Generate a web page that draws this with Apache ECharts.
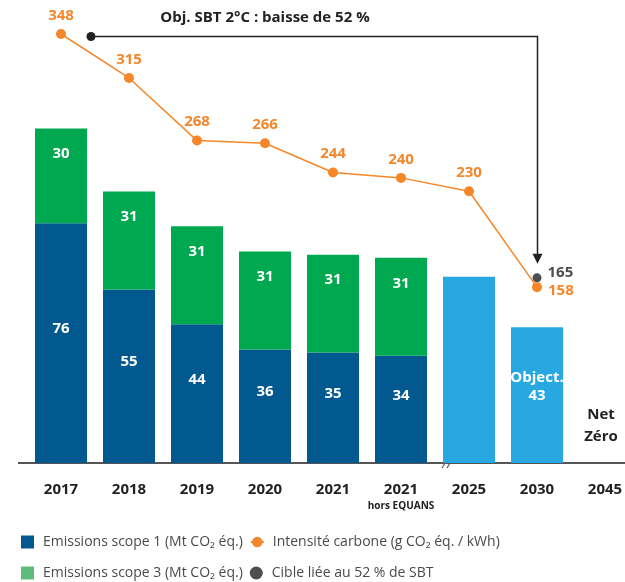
<!DOCTYPE html>
<html>
<head>
<meta charset="utf-8">
<script src="https://cdn.jsdelivr.net/npm/echarts@6/dist/echarts.min.js"></script>
<style>
  html, body { margin: 0; padding: 0; background: #fff; }
  #chart { width: 625px; height: 582px; }
</style>
</head>
<body>
<div id="chart"></div>
<script>
var categories = ['2017', '2018', '2019', '2020', '2021', '2021 hors EQUANS', '2025', '2030', '2045'];
var scope1 = [76, 55, 44, 36, 35, 34, '-', '-', '-'];
var scope3 = [30, 31, 31, 31, 31, 31, '-', '-', '-'];
var objectif = ['-', '-', '-', '-', '-', '-', 59, 43, '-'];
var intensite = [348, 315, 268, 266, 244, 240, 230, 158, '-'];
var cible = ['-', '-', '-', '-', '-', '-', '-', 165, '-'];

var FONT = '"Open Sans", "Noto Sans", sans-serif';
var BLUE = '#02598f', GREEN = '#00a94f', LIGHT = '#27a8e0', ORANGE = '#f5872a', DARK = '#222';

var chart = echarts.init(document.getElementById('chart'));

// label de la barre 2030
var objData = objectif.map(function (v, i) {
    if (categories[i] == '2030') {
        return { value: v, label: { show: true, formatter: 'Object.\n{c}' } };
    }
    return v;
});
var intData = intensite.map(function (v, i) {
    if (categories[i] == '2030') {
        return { value: v, label: { position: 'right', distance: 6, offset: [0, 4] } };
    }
    return v;
});

var options = {
    animation: false,
    textStyle: { fontFamily: FONT },
    grid: { left: 27, width: 612, top: 30, height: 433, outerBoundsMode: 'none', containLabel: false },
    legend: {
        left: 16, top: 525, width: 580,
        itemWidth: 13, itemHeight: 13, itemGap: 7,
        textStyle: { fontSize: 14, color: '#4a4a4a', fontFamily: FONT, lineHeight: 24, padding: [0, 0, 0, 4] },
        data: [
            { name: 'Emissions scope 1 (Mt CO₂ éq.)', icon: 'rect' },
            { name: 'Intensité carbone (g CO₂ éq. / kWh)' },
            { name: 'Emissions scope 3 (Mt CO₂ éq.)', icon: 'rect', itemStyle: { color: '#5dbc7b' } },
            { name: 'Cible liée au 52 % de SBT', icon: 'circle' }
        ]
    },
    xAxis: {
        type: 'category',
        data: categories,
        axisTick: { show: false },
        axisLine: { lineStyle: { color: '#555', width: 2 } },
        axisLabel: {
            interval: 0,
            margin: 19,
            color: DARK,
            fontSize: 15,
            fontWeight: 'bold',
            formatter: function (val) {
                if (val.indexOf(' hors ') > 0) {
                    var p = val.split(' hors ');
                    return p[0] + '\n{s|hors ' + p[1] + '}';
                }
                return val;
            },
            rich: {
                s: { fontSize: 10, fontWeight: 'bold', color: DARK, lineHeight: 16, padding: [2, 0, 0, 0] }
            }
        }
    },
    yAxis: [
        { type: 'value', min: 0, max: 137.2, show: false },
        { type: 'value', min: 26, max: 351, show: false }
    ],
    series: [
        {
            name: 'Emissions scope 1 (Mt CO₂ éq.)',
            type: 'bar', stack: 'em', barWidth: 52,
            itemStyle: { color: BLUE },
            label: { show: true, position: 'inside', offset: [0, -14], color: '#fff', fontSize: 15, fontWeight: 'bold' },
            data: scope1
        },
        {
            name: 'Emissions scope 3 (Mt CO₂ éq.)',
            type: 'bar', stack: 'em', barWidth: 52,
            itemStyle: { color: GREEN },
            label: { show: true, position: 'insideTop', distance: 18, color: '#fff', fontSize: 15, fontWeight: 'bold' },
            data: scope3
        },
        {
            name: 'Objectif',
            type: 'bar', stack: 'em', barWidth: 52,
            itemStyle: { color: LIGHT },
            label: { show: false, position: 'inside', offset: [0, -8], color: '#fff', fontSize: 15, fontWeight: 'bold', lineHeight: 18 },
            data: objData
        },
        {
            name: 'Intensité carbone (g CO₂ éq. / kWh)',
            type: 'line', yAxisIndex: 1, clip: false,
            symbol: 'circle', symbolSize: 10,
            itemStyle: { color: ORANGE },
            lineStyle: { color: ORANGE, width: 1.5 },
            label: { show: true, position: 'top', distance: 6, color: ORANGE, fontSize: 15, fontWeight: 'bold' },
            data: intData
        },
        {
            name: 'Cible liée au 52 % de SBT',
            type: 'scatter', yAxisIndex: 1,
            symbolSize: 9,
            itemStyle: { color: DARK },
            label: { show: true, position: 'right', distance: 6, offset: [0, -5], color: DARK, fontSize: 15, fontWeight: 'bold' },
            data: cible
        }
    ]
};
chart.setOption(options, true);

// flèche de l'objectif SBT : pointe sur la cible 2030
var idx = cible.findIndex(function (v) { return v !== '-'; });
var target = chart.convertToPixel({ xAxisIndex: 0, yAxisIndex: 1 }, [idx, cible[idx]]);
var ax = Math.round(target[0]) + 0.5;
var ay = target[1] - 14;
chart.setOption({
    graphic: [
        {
            type: 'text', x: 265, y: 10,
            style: { text: 'Obj. SBT 2°C : baisse de 52 %', align: 'center', fontSize: 15, fontWeight: 'bold', fill: DARK, fontFamily: FONT }
        },
        {
            type: 'polyline',
            shape: { points: [[91, 36.5], [ax, 36.5], [ax, ay - 6]] },
            style: { stroke: DARK, lineWidth: 1.5, fill: null }
        },
        { type: 'circle', shape: { cx: 91, cy: 36.5, r: 4.5 }, style: { fill: DARK } },
        { type: 'polygon', shape: { points: [[ax - 5, ay - 10], [ax + 5, ay - 10], [ax, ay]] }, style: { fill: DARK } },
        {
            type: 'text', x: 601, y: 404,
            style: { text: 'Net\nZéro', align: 'center', fontSize: 15, fontWeight: 'bold', fill: DARK, lineHeight: 22, fontFamily: FONT }
        },
        { type: 'line', shape: { x1: 18, y1: 463, x2: 30, y2: 463 }, style: { stroke: '#555', lineWidth: 2 } },
        { type: 'line', shape: { x1: 442, y1: 468, x2: 448, y2: 458 }, style: { stroke: '#555', lineWidth: 1.2 } },
        { type: 'line', shape: { x1: 447, y1: 468, x2: 453, y2: 458 }, style: { stroke: '#555', lineWidth: 1.2 } }
    ]
});
</script>
</body>
</html>
